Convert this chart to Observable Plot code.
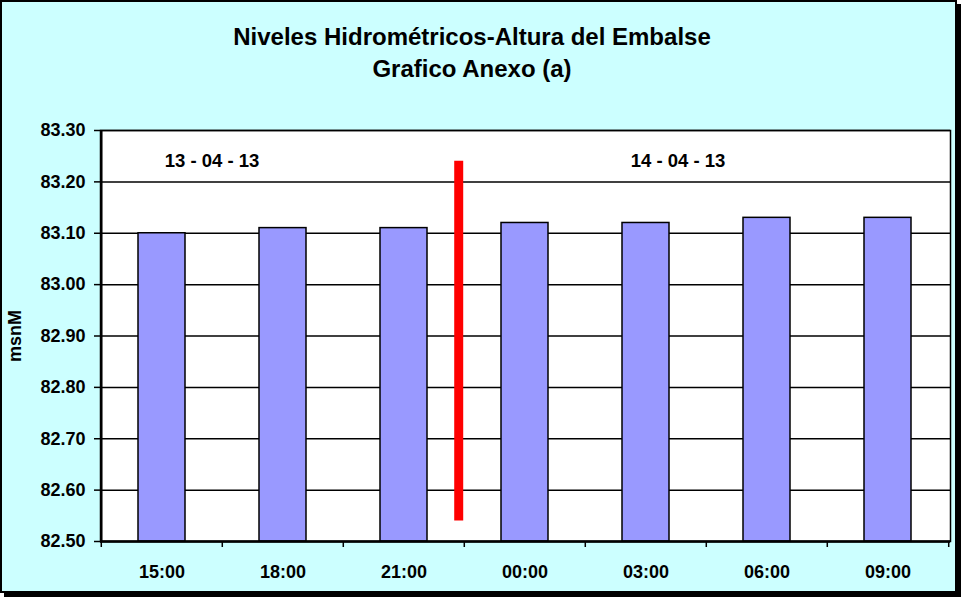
<!DOCTYPE html>
<html><head><meta charset="utf-8">
<script src="https://cdn.jsdelivr.net/npm/d3@7"></script>
<script src="https://cdn.jsdelivr.net/npm/@observablehq/plot@0.6"></script>
<style>
body{margin:0;background:#fff;font-family:Arial,"Liberation Sans",sans-serif;}
#frame{position:absolute;left:0;top:0;width:953px;height:589px;background:#ccffff;border:2px solid #000;box-shadow:4px 4px 0 #000;}
#title{position:absolute;left:0;width:940px;top:19px;text-align:center;font-weight:bold;font-size:24px;line-height:32px;color:#000;}
#chart{position:absolute;left:0;top:100px;}
</style></head><body>
<div id="frame"><div id="title">Niveles Hidrométricos-Altura del Embalse<br>Grafico Anexo (a)</div></div>
<div id="chart"></div>
<script>
const times = ["15:00","18:00","21:00","00:00","03:00","06:00","09:00"];
const levels = [83.10, 83.11, 83.11, 83.12, 83.12, 83.13, 83.13];
const yTicks = [82.5, 82.6, 82.7, 82.8, 82.9, 83.0, 83.1, 83.2, 83.3];
const dateLabels = ["13 - 04 - 13", "14 - 04 - 13"];
const dateAnchors = ["15:00", "03:00"];
const dateLevel = 83.24;
const dividerAfter = "21:00";
const dividerTop = 83.24;
const dividerBottom = 82.54;

const data = times.map((t, i) => ({time: t, level: levels[i]}));
const W = 963, mL = 100, mR = 13;
const bw = (W - mL - mR) / times.length;
const font = "Arial, 'Liberation Sans', sans-serif";

const chart = Plot.plot({
  width: W, height: 491,
  marginLeft: mL, marginRight: mR, marginTop: 30, marginBottom: 50,
  style: {fontFamily: font, fontSize: "18px", fontWeight: "bold", background: "transparent", color: "#000", overflow: "visible"},
  x: {domain: times, paddingInner: 0.61, paddingOuter: 0.305, align: 0.5},
  y: {domain: [82.5, 83.3]},
  marks: [
    Plot.frame({fill: "#fff", stroke: "#000", strokeWidth: 1.5}),
    Plot.ruleY(yTicks, {stroke: "#000", strokeWidth: 1.5}),
    Plot.barY(data, {x: "time", y1: 82.5, y2: "level", fill: "#9999ff", stroke: "#000", strokeWidth: 1.5}),
    Plot.ruleX([dividerAfter], {x: d => d, dx: bw/2 - 6, y1: dividerBottom, y2: dividerTop, stroke: "#ff0000", strokeWidth: 9}),
    Plot.text([dateLabels[0]], {x: () => dateAnchors[0], y: dateLevel, text: d => d, dx: 50, fontSize: 18.5}),
    Plot.text([dateLabels[1]], {x: () => dateAnchors[1], y: dateLevel, text: d => d, dx: 32, fontSize: 18.5}),
    Plot.axisY({ticks: yTicks, tickFormat: d3.format(".2f"), tickSize: 6, tickPadding: 9, strokeWidth: 1.5, fontSize: 18, label: "msnM", labelAnchor: "center", labelArrow: "none", labelOffset: 92}),
    Plot.axisX({tickSize: 0, tickPadding: 24, label: null}),
    Plot.axisX({text: null, tickSize: 6, dx: -bw/2, strokeWidth: 1.5, label: null}),
    Plot.axisX({ticks: [times[times.length-1]], text: null, tickSize: 6, dx: bw/2, strokeWidth: 1.5, label: null}),
    Plot.ruleX([times[0]], {x: d => d, dx: -bw/2, stroke: "#000", strokeWidth: 2.5}),
    Plot.ruleY([82.5], {stroke: "#000", strokeWidth: 2.5})
  ]
});
document.getElementById("chart").append(chart);
</script>
</body></html>
